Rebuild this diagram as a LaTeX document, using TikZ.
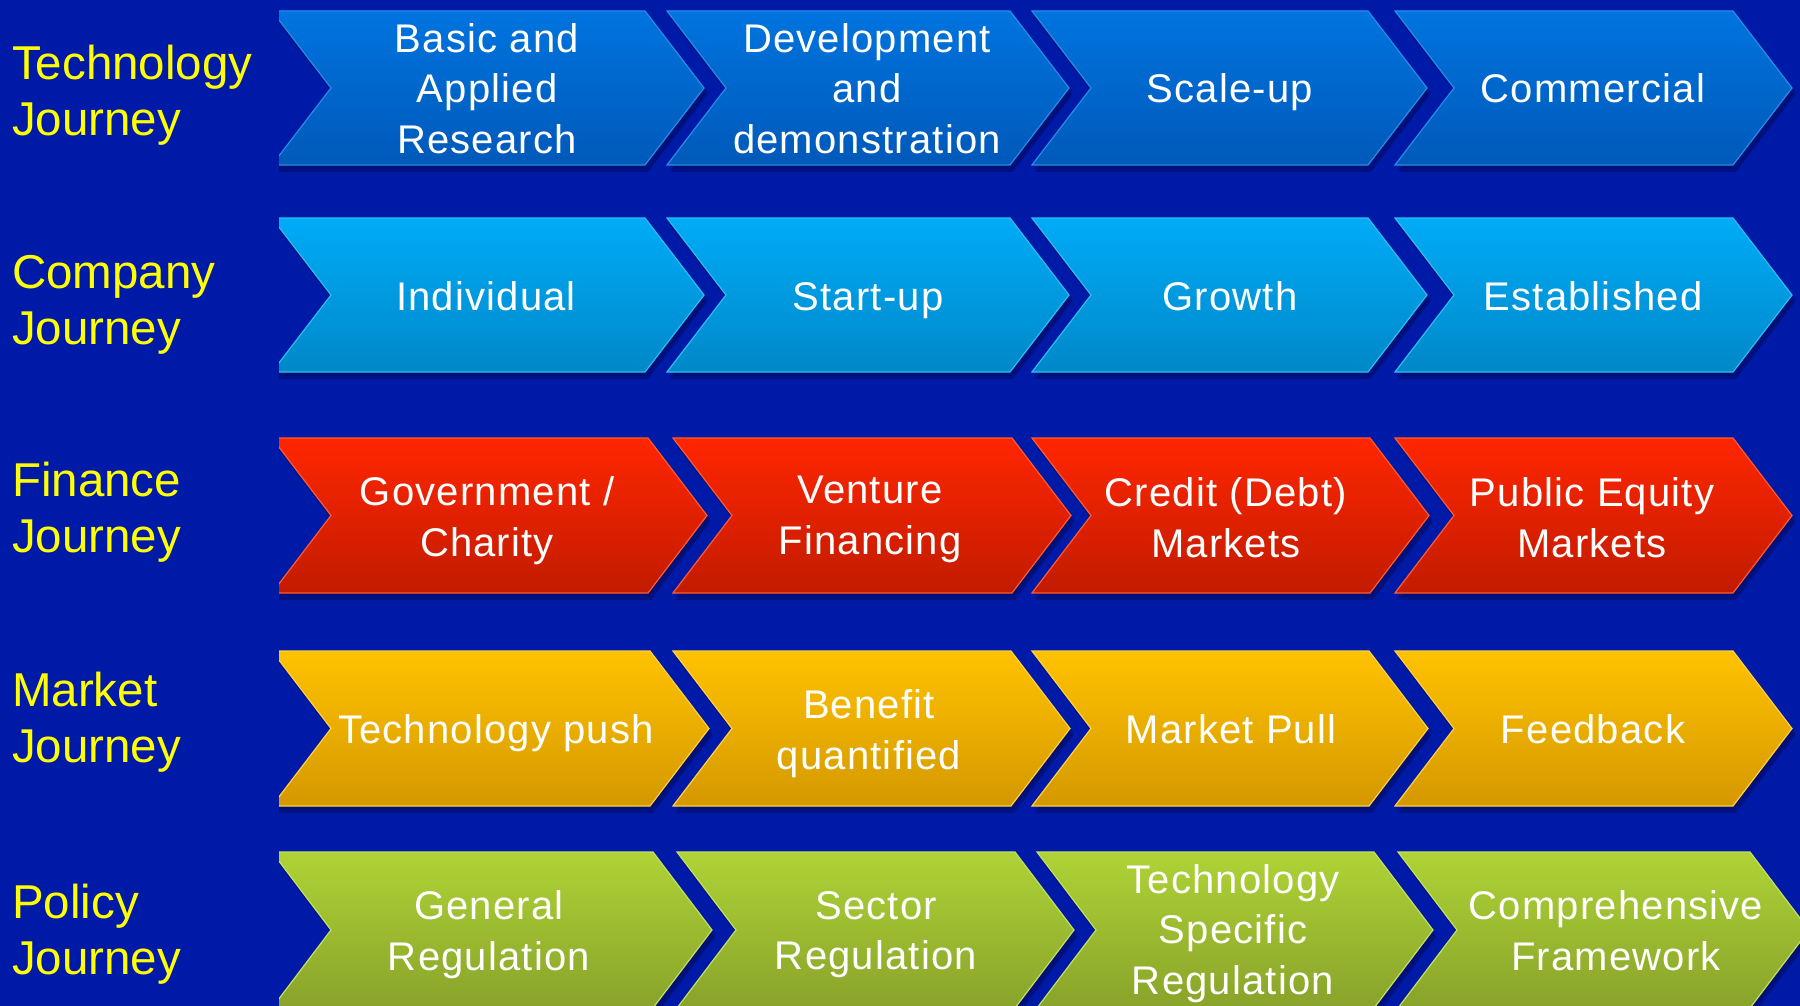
\documentclass[tikz,border=0pt]{standalone}
\usepackage{fontspec}
\setmainfont{Liberation Sans}
\newfontfamily\chevfont[LetterSpace=3]{Liberation Sans}
\definecolor{bgblue}{HTML}{001AA8}
\definecolor{labelyellow}{HTML}{FFFF00}
\definecolor{shadowc}{HTML}{000C66}
\definecolor{rat}{HTML}{0074DF}\definecolor{rab}{HTML}{0059B9}\definecolor{rae}{HTML}{2A8CE6}
\definecolor{rbt}{HTML}{00ABF7}\definecolor{rbb}{HTML}{0088C8}\definecolor{rbe}{HTML}{30BCF5}
\definecolor{rct}{HTML}{FF2600}\definecolor{rcb}{HTML}{C21B00}\definecolor{rce}{HTML}{FF5A30}
\definecolor{rdt}{HTML}{FFC200}\definecolor{rdb}{HTML}{D49800}\definecolor{rde}{HTML}{FFD040}
\definecolor{ret}{HTML}{AFD336}\definecolor{reb}{HTML}{88A32A}\definecolor{ree}{HTML}{C4E060}
\newcommand\mystrut{\rule[-11.25pt]{0pt}{50.5pt}}
\newcommand\lblstrut{\rule[-14pt]{0pt}{56pt}}
\newcommand\mychev[5]{%
  \pgfmathsetmacro\mymid{(#3+#4)/2}%
  \fill[shadowc,opacity=0.35] ({#1+2},{#3+4}) -- ({#2+2},{#3+4}) -- ({#2+63},{\mymid+4}) -- ({#2+2},{#4+4}) -- ({#1+2},{#4+4}) -- ({#1+63},{\mymid+4}) -- cycle;
  \fill[shadowc,opacity=0.55] ({#1+3},{#3+7}) -- ({#2+3},{#3+7}) -- ({#2+62},{\mymid+7}) -- ({#2+3},{#4+7}) -- ({#1+3},{#4+7}) -- ({#1+62},{\mymid+7}) -- cycle;
  \shadedraw[#5] (#1,#3) -- (#2,#3) -- ({#2+59},\mymid) -- (#2,#4) -- (#1,#4) -- ({#1+59},\mymid) -- cycle;
}
\tikzset{
  rowa/.style={top color=rat, bottom color=rab, draw=rae, line width=1.2pt},
  rowb/.style={top color=rbt, bottom color=rbb, draw=rbe, line width=1.2pt},
  rowc/.style={top color=rct, bottom color=rcb, draw=rce, line width=1.2pt},
  rowd/.style={top color=rdt, bottom color=rdb, draw=rde, line width=1.2pt},
  rowe/.style={top color=ret, bottom color=reb, draw=ree, line width=1.2pt},
  ctext/.style={text=white, align=center, inner sep=0pt,
    font=\chevfont\fontsize{40}{50.5}\selectfont,
    execute at begin node=\mystrut, execute at end node=\mystrut},
  lbl/.style={text=labelyellow, align=left, anchor=west, inner sep=0pt,
    font=\fontsize{47.5}{56}\selectfont,
    execute at begin node=\lblstrut, execute at end node=\lblstrut}
}
\begin{document}
\begin{tikzpicture}[x=1pt,y=-1pt]
\fill[bgblue] (0,0) rectangle (1800,1006);
\useasboundingbox (0,0) rectangle (1800,1006);
\begin{scope}
\clip (279,0) rectangle (1800,1006);
% row 1
\mychev{272}{645}{11}{165}{rowa}
\mychev{667}{1010}{11}{165}{rowa}
\mychev{1032}{1368}{11}{165}{rowa}
\mychev{1395}{1733}{11}{165}{rowa}
% row 2
\mychev{272}{645}{218}{372}{rowb}
\mychev{667}{1010}{218}{372}{rowb}
\mychev{1032}{1368}{218}{372}{rowb}
\mychev{1395}{1733}{218}{372}{rowb}
% row 3
\mychev{272}{648}{438}{593}{rowc}
\mychev{673}{1012}{438}{593}{rowc}
\mychev{1032}{1370}{438}{593}{rowc}
\mychev{1395}{1733}{438}{593}{rowc}
% row 4
\mychev{272}{650}{651}{806}{rowd}
\mychev{673}{1011}{651}{806}{rowd}
\mychev{1032}{1369}{651}{806}{rowd}
\mychev{1395}{1733}{651}{806}{rowd}
% row 5
\mychev{272}{653}{852}{1008}{rowe}
\mychev{677}{1015}{852}{1008}{rowe}
\mychev{1037}{1374}{852}{1008}{rowe}
\mychev{1398}{1750}{852}{1008}{rowe}
\end{scope}
% labels
\node[lbl] (l1) at (12,97.5) {Technology\\Journey};
\node[lbl] (l2) at (12,306.5) {Company\\Journey};
\node[lbl] (l3) at (12,514.5) {Finance\\Journey};
\node[lbl] (l4) at (12,724.5) {Market\\Journey};
\node[lbl] (l5) at (12,936) {Policy\\Journey};
% row 1 texts
\node[ctext] (t11) at (487,94) {Basic and\\Applied\\Research};
\node[ctext] (t12) at (867,94) {Development\\and\\demonstration};
\node[ctext] (t13) at (1230,89) {Scale-up};
\node[ctext] (t14) at (1593,89) {Commercial};
% row 2 texts
\node[ctext] (t21) at (486,296) {Individual};
\node[ctext] (t22) at (868,296) {Start-up};
\node[ctext] (t23) at (1230,296) {Growth};
\node[ctext] (t24) at (1593,296) {Established};
% row 3 texts
\node[ctext] (t31) at (487,522) {Government /\\Charity};
\node[ctext] (t32) at (870,521) {Venture\\Financing};
\node[ctext] (t33) at (1226,523) {Credit (Debt)\\Markets};
\node[ctext] (t34) at (1592,523) {Public Equity\\Markets};
% row 4 texts
\node[ctext] (t41) at (496,729) {Technology push};
\node[ctext] (t42) at (869,735) {Benefit\\quantified};
\node[ctext] (t43) at (1231,729) {Market Pull};
\node[ctext] (t44) at (1593,729) {Feedback};
% row 5 texts
\node[ctext] (t51) at (489,936) {General\\Regulation};
\node[ctext] (t52) at (876,936) {Sector\\Regulation};
\node[ctext] (t53) at (1233,935) {Technology\\Specific\\Regulation};
\node[ctext] (t54) at (1616,936) {Comprehensive\\Framework};
\end{tikzpicture}
\end{document}
